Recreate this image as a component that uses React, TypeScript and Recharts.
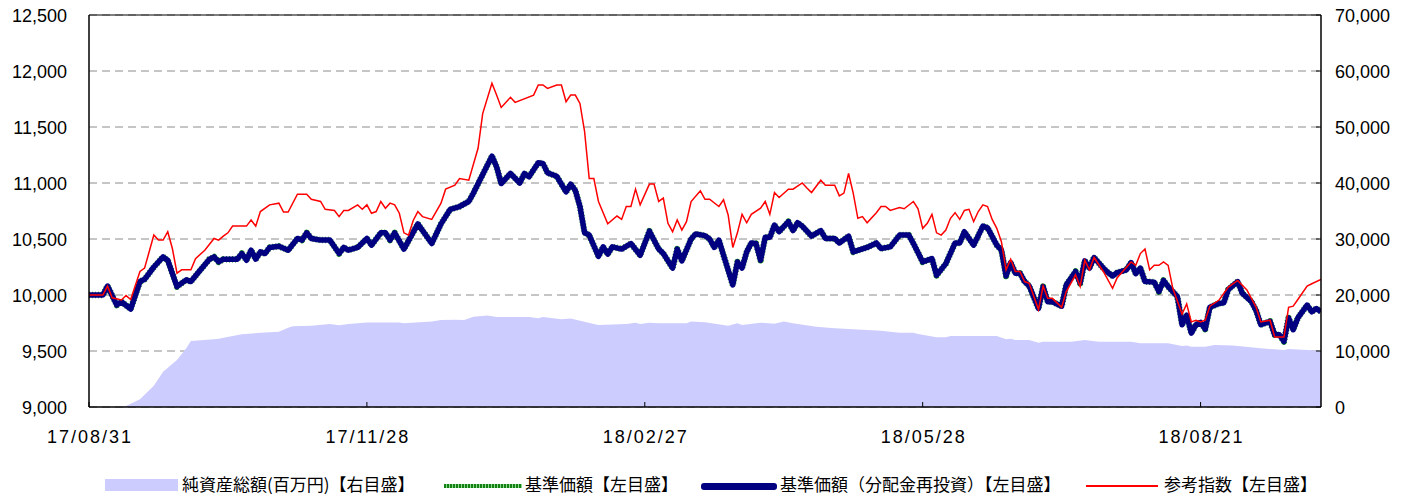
import React from 'react';
import {
  ComposedChart,
  Line,
  Area,
  XAxis,
  YAxis,
  CartesianGrid,
  ReferenceLine,
  Legend,
} from 'recharts';

// x positions are business-day indices counted from 17/08/31
const xTickIndex = [0, 60, 120, 180, 240];
const xTickLabels = ['17/08/31', '17/11/28', '18/02/27', '18/05/28', '18/08/21'];
const xDomainEnd = 266;

const leftTicks = [9000, 9500, 10000, 10500, 11000, 11500, 12000, 12500];
const rightTicks = [0, 10000, 20000, 30000, 40000, 50000, 60000, 70000];

const seriesNames = [
  '純資産総額(百万円)【右目盛】',
  '基準価額【左目盛】',
  '基準価額（分配金再投資）【左目盛】',
  '参考指数【左目盛】',
];

// 純資産総額 (百万円) [index, value]
const netAssetsPoints: [number, number][] = [
  [0, 0], [6, 0], [8, 200], [11, 1400], [14, 3800], [16, 6300], [19, 8400], [21, 10500], [22, 11800],
  [27, 12100], [28, 12200], [31, 12700], [33, 13000], [38, 13300], [41, 13450], [43, 14150], [44, 14400],
  [46, 14450], [48, 14500], [52, 14800], [54, 14600], [56, 14800], [60, 15100], [67, 15100], [68, 14950],
  [74, 15250], [76, 15550], [79, 15600], [81, 15550], [83, 16100], [86, 16350], [88, 16050], [95, 16050],
  [97, 15850], [98, 16050], [102, 15650], [104, 15800], [109, 14800], [110, 14650], [116, 14800],
  [118, 15050], [119, 14800], [121, 15050], [123, 14950], [129, 14950], [130, 15250], [133, 15150],
  [138, 14500], [140, 14950], [141, 14650], [145, 15050], [148, 14850], [150, 15250], [152, 14950],
  [157, 14350], [161, 14050], [165, 13870], [171, 13630], [175, 13270], [178, 13270], [179, 13030],
  [183, 12440], [185, 12440], [186, 12680], [196, 12680], [198, 12090], [199, 12200], [200, 11960],
  [203, 11960], [205, 11480], [206, 11660], [212, 11660], [215, 11960], [218, 11660], [225, 11660],
  [227, 11370], [233, 11370], [236, 10890], [237, 11000], [238, 10770], [241, 10770], [243, 11070],
  [247, 11000], [253, 10480], [256, 10300], [258, 10180], [259, 10350], [263, 10180], [266, 10060],
];

// 基準価額 [index, value]
const navPoints: [number, number][] = [
  [0, 10000], [3, 10000], [4, 10080], [6, 9910], [7, 9940], [9, 9875], [11, 10120], [12, 10140],
  [14, 10250], [16, 10340], [17, 10310], [19, 10075], [21, 10135], [22, 10120], [24, 10220], [26, 10320],
  [27, 10340], [28, 10295], [29, 10320], [32, 10320], [33, 10370], [34, 10310], [35, 10400], [36, 10320],
  [37, 10385], [38, 10370], [39, 10425], [41, 10435], [43, 10400], [45, 10505], [46, 10490], [47, 10555],
  [48, 10505], [50, 10490], [52, 10490], [54, 10370], [55, 10425], [56, 10400], [58, 10425], [60, 10505],
  [61, 10445], [63, 10555], [64, 10555], [65, 10490], [66, 10555], [68, 10410], [71, 10635], [74, 10460],
  [76, 10635], [78, 10765], [80, 10790], [82, 10835], [83, 10910], [85, 11075], [87, 11240], [88, 11145],
  [89, 10995], [91, 11085], [93, 11000], [94, 11085], [95, 11055], [97, 11180], [98, 11175], [99, 11090],
  [101, 11060], [103, 10920], [104, 10990], [105, 10935], [106, 10790], [107, 10555], [108, 10535],
  [110, 10345], [111, 10430], [112, 10365], [113, 10430], [115, 10410], [117, 10460], [119, 10355],
  [121, 10570], [123, 10410], [124, 10370], [126, 10240], [127, 10410], [128, 10305], [130, 10500],
  [131, 10545], [133, 10530], [134, 10500], [135, 10425], [136, 10490], [137, 10355], [139, 10090],
  [140, 10295], [141, 10240], [142, 10385], [143, 10465], [144, 10460], [145, 10310], [146, 10515],
  [147, 10515], [148, 10625], [149, 10565], [151, 10655], [152, 10575], [153, 10645], [154, 10615],
  [156, 10525], [158, 10575], [159, 10505], [161, 10505], [162, 10465], [164, 10525], [165, 10385],
  [168, 10425], [170, 10465], [171, 10415], [173, 10430], [175, 10535], [177, 10535], [178, 10460],
  [180, 10295], [182, 10325], [183, 10175], [185, 10280], [187, 10465], [188, 10465], [189, 10565],
  [191, 10445], [193, 10615], [194, 10600], [196, 10445], [197, 10400], [198, 10170], [199, 10290],
  [200, 10195], [201, 10195], [202, 10120], [203, 10080], [205, 9880], [206, 10075], [207, 9940],
  [208, 9940], [210, 9900], [211, 10090], [213, 10210], [214, 10105], [215, 10305], [216, 10240],
  [217, 10335], [219, 10240], [220, 10200], [221, 10170], [222, 10200], [224, 10225], [225, 10290],
  [226, 10190], [227, 10240], [228, 10120], [230, 10115], [231, 10030], [232, 10130], [233, 10075],
  [235, 9985], [236, 9735], [237, 9820], [238, 9660], [239, 9735], [240, 9755], [241, 9695], [242, 9890],
  [244, 9925], [245, 9930], [246, 10050], [248, 10120], [249, 10015], [251, 9940], [252, 9860],
  [253, 9735], [255, 9765], [256, 9645], [257, 9645], [258, 9585], [259, 9795], [260, 9690], [261, 9795],
  [263, 9910], [264, 9850], [265, 9880], [266, 9850],
];

// 基準価額（分配金再投資）: no distributions in the period, so it coincides with 基準価額
const navReinvestedPoints: [number, number][] = navPoints;

// 参考指数 [index, value]
const benchmarkPoints: [number, number][] = [
  [0, 10000], [3, 10000], [4, 10080], [5, 9975], [7, 9955], [8, 9995], [9, 9960], [11, 10210],
  [12, 10240], [14, 10535], [15, 10490], [16, 10490], [17, 10565], [18, 10415], [19, 10195], [20, 10225],
  [22, 10225], [23, 10325], [25, 10400], [27, 10505], [28, 10490], [29, 10525], [30, 10555], [31, 10615],
  [34, 10615], [35, 10670], [36, 10615], [37, 10745], [39, 10805], [41, 10820], [42, 10740], [43, 10740],
  [45, 10900], [47, 10900], [48, 10855], [50, 10835], [51, 10765], [53, 10755], [54, 10700], [55, 10755],
  [56, 10755], [58, 10805], [59, 10765], [60, 10805], [61, 10730], [62, 10745], [63, 10835], [64, 10775],
  [65, 10820], [66, 10805], [67, 10730], [68, 10555], [69, 10535], [70, 10665], [71, 10745], [72, 10700],
  [74, 10675], [76, 10820], [77, 10945], [79, 10980], [80, 11040], [82, 11025], [84, 11310], [85, 11620],
  [87, 11890], [88, 11785], [89, 11675], [91, 11765], [92, 11720], [96, 11785], [97, 11875], [98, 11875],
  [99, 11845], [101, 11875], [102, 11875], [103, 11725], [104, 11785], [105, 11785], [106, 11710],
  [107, 11460], [108, 11040], [109, 11040], [110, 10835], [112, 10635], [114, 10705], [115, 10675],
  [116, 10790], [117, 10790], [118, 10945], [119, 10805], [121, 10990], [122, 10990], [123, 10835],
  [124, 10865], [125, 10640], [126, 10565], [127, 10670], [128, 10580], [129, 10655], [130, 10835],
  [132, 10930], [133, 10855], [134, 10855], [136, 10790], [137, 10850], [138, 10715], [139, 10425],
  [140, 10555], [141, 10720], [142, 10645], [143, 10720], [145, 10775], [146, 10835], [147, 10720],
  [148, 10915], [149, 10870], [151, 10945], [152, 10945], [154, 11000], [155, 10955], [156, 10915],
  [158, 11025], [159, 10980], [161, 10980], [162, 10885], [163, 10910], [164, 11085], [165, 10910],
  [166, 10685], [167, 10700], [168, 10645], [170, 10735], [171, 10790], [172, 10790], [173, 10755],
  [175, 10780], [176, 10770], [178, 10835], [179, 10770], [180, 10595], [181, 10640], [182, 10720],
  [183, 10555], [184, 10535], [185, 10580], [186, 10685], [187, 10735], [188, 10675], [189, 10755],
  [190, 10765], [191, 10655], [192, 10745], [193, 10805], [194, 10790], [195, 10675], [196, 10595],
  [197, 10475], [198, 10225], [199, 10320], [200, 10210], [201, 10210], [202, 10120], [203, 10105],
  [205, 9870], [206, 10080], [207, 9970], [208, 9970], [210, 9890], [211, 10030], [213, 10180],
  [214, 10075], [215, 10310], [216, 10225], [217, 10335], [219, 10210], [221, 10060], [222, 10155],
  [225, 10295], [226, 10265], [227, 10370], [228, 10410], [229, 10225], [230, 10265], [231, 10265],
  [232, 10295], [233, 10265], [234, 10060], [236, 9830], [237, 9920], [238, 9760], [239, 9775],
  [240, 9760], [241, 9775], [242, 9900], [244, 9955], [246, 10070], [248, 10130], [250, 10045],
  [252, 9890], [253, 9760], [255, 9775], [256, 9625], [257, 9625], [258, 9625], [259, 9890], [260, 9900],
  [261, 9960], [263, 10080], [264, 10100], [266, 10140],
];

const toData = (pts: [number, number][]) => pts.map(([i, v]) => ({ i, v }));

const NUM_FONT = '"Liberation Sans", Arial, sans-serif';
const CJK_FONT = '"Noto Sans CJK JP", "Noto Sans CJK SC", sans-serif';
const fmt = (v: number) => v.toLocaleString('en-US');

const XTick = (props: any) => {
  const { x, y, payload } = props;
  const k = xTickIndex.indexOf(payload.value);
  return (
    <g>
      <line x1={x} y1={y} x2={x} y2={y - 5} stroke="#000" strokeWidth={1} />
      <text x={x + 1} y={y + 36} textAnchor="middle" fontSize={18} fontFamily={NUM_FONT} letterSpacing={2} fill="#000">
        {k >= 0 ? xTickLabels[k] : ''}
      </text>
    </g>
  );
};

const LeftTick = (props: any) => {
  const { x, y, payload } = props;
  return (
    <text x={x - 22} y={y} dy="0.4em" textAnchor="end" fontSize={18} fontFamily={NUM_FONT} fill="#000">
      {fmt(payload.value)}
    </text>
  );
};

const RightTick = (props: any) => {
  const { x, y, payload } = props;
  return (
    <g>
      <line x1={x} y1={y} x2={x - 5} y2={y} stroke="#000" strokeWidth={1} />
      <text x={x + 14} y={y} dy="0.4em" textAnchor="start" fontSize={18} fontFamily={NUM_FONT} fill="#000">
        {fmt(payload.value)}
      </text>
    </g>
  );
};

const swatches = [
  { left: 105, width: 73, top: 24, height: 12, background: '#CCCCFF', radius: 0, textLeft: 182 },
  {
    left: 444, width: 78, top: 29, height: 4,
    background: 'repeating-linear-gradient(90deg, #128012 0px, #128012 2px, #8fd88f 2px, #8fd88f 3px)',
    radius: 0, textLeft: 525,
  },
  { left: 701, width: 76, top: 28, height: 7, background: '#000080', radius: 3, textLeft: 780 },
  { left: 1086, width: 72, top: 30, height: 2, background: '#FF0000', radius: 0, textLeft: 1164 },
];

const LegendContent = () => (
  <div style={{ position: 'relative', width: 1406, height: 40 }}>
    {swatches.map((s, k) => (
      <React.Fragment key={k}>
        <div
          style={{
            position: 'absolute', left: s.left, top: s.top, width: s.width, height: s.height,
            background: s.background, borderRadius: s.radius,
          }}
        />
        <div
          style={{
            position: 'absolute', left: s.textLeft, top: 20, fontSize: 17, lineHeight: '17px',
            fontFamily: CJK_FONT, color: '#000', whiteSpace: 'nowrap',
          }}
        >
          {seriesNames[k]}
        </div>
      </React.Fragment>
    ))}
  </div>
);

export default function App() {
  return (
    <div style={{ position: 'absolute', left: 0, top: 0, width: 1406, height: 495, background: '#fff' }}>
      <ComposedChart width={1406} height={495} margin={{ top: 15, right: 0, bottom: 0, left: 0 }}>
        <CartesianGrid yAxisId="left" vertical={false} stroke="#8c8c8c" strokeDasharray="8 5" />
        <XAxis
          type="number"
          dataKey="i"
          domain={[0, xDomainEnd]}
          ticks={xTickIndex}
          allowDataOverflow
          height={48}
          axisLine={{ stroke: '#000', strokeWidth: 1.5 }}
          tickLine={false}
          tickSize={0}
          tickMargin={0}
          tick={<XTick />}
          interval={0}
        />
        <YAxis
          yAxisId="left"
          orientation="left"
          width={89}
          domain={[9000, 12500]}
          ticks={leftTicks}
          allowDataOverflow
          axisLine={{ stroke: '#000', strokeWidth: 1.5 }}
          tickLine={false}
          tickSize={0}
          tickMargin={0}
          tick={<LeftTick />}
          interval={0}
        />
        <YAxis
          yAxisId="right"
          orientation="right"
          width={85}
          domain={[0, 70000]}
          ticks={rightTicks}
          allowDataOverflow
          axisLine={{ stroke: '#000', strokeWidth: 1.5 }}
          tickLine={false}
          tickSize={0}
          tickMargin={0}
          tick={<RightTick />}
          interval={0}
        />
        <ReferenceLine yAxisId="left" y={12500} stroke="#000" strokeWidth={1} />
        <Area
          yAxisId="right"
          data={toData(netAssetsPoints)}
          dataKey="v"
          name={seriesNames[0]}
          type="linear"
          fill="#CCCCFF"
          fillOpacity={1}
          stroke="none"
          isAnimationActive={false}
        />
        <Line
          yAxisId="left"
          data={toData(navPoints)}
          dataKey="v"
          name={seriesNames[1]}
          type="linear"
          stroke="#1f9a1f"
          strokeWidth={6.5}
          strokeDasharray="1 2"
          strokeLinejoin="round"
          dot={false}
          isAnimationActive={false}
        />
        <Line
          yAxisId="left"
          data={toData(navReinvestedPoints)}
          dataKey="v"
          name={seriesNames[2]}
          type="linear"
          stroke="#000080"
          strokeWidth={5.5}
          strokeLinejoin="round"
          dot={false}
          isAnimationActive={false}
        />
        <Line
          yAxisId="left"
          data={toData(benchmarkPoints)}
          dataKey="v"
          name={seriesNames[3]}
          type="linear"
          stroke="#FF0000"
          strokeWidth={1.5}
          dot={false}
          isAnimationActive={false}
        />
        <Legend
          verticalAlign="bottom"
          height={40}
          content={<LegendContent />}
          wrapperStyle={{ left: 0, bottom: 0, width: 1406, height: 40 }}
        />
      </ComposedChart>
    </div>
  );
}
